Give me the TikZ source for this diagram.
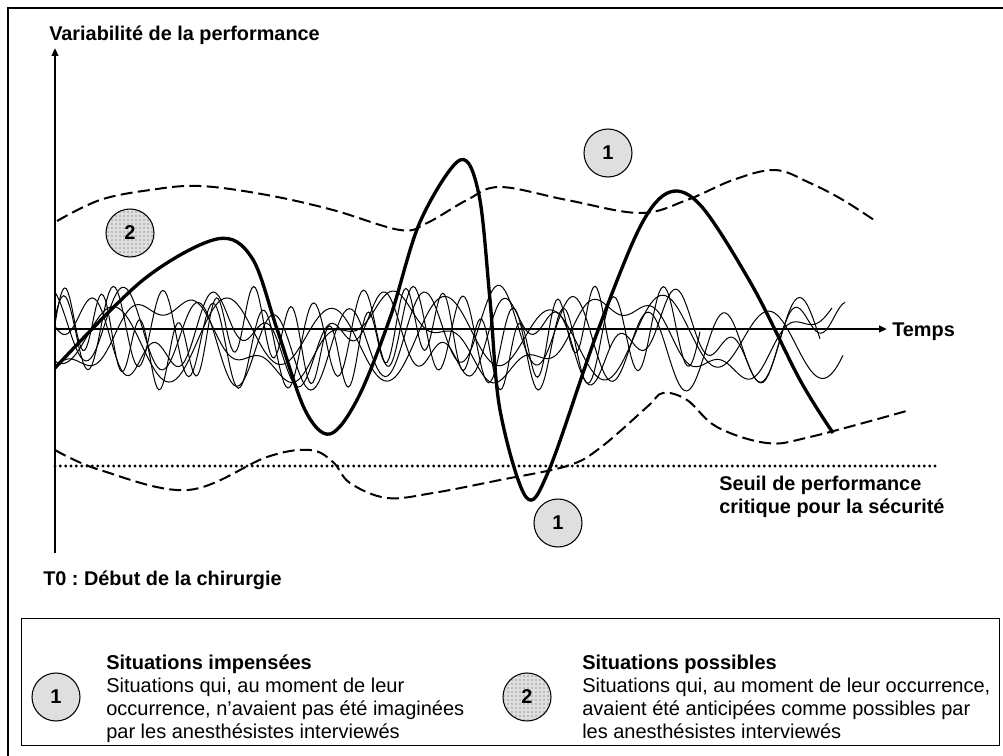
\documentclass[tikz,border=0pt]{standalone}
\usepackage{fontspec}
\setmainfont{Liberation Sans}
\usetikzlibrary{arrows.meta,patterns,positioning}
\frenchspacing

\begin{document}
\begin{tikzpicture}[x=0.75pt,y=-0.75pt,
                every node/.style={font=\fontsize{15}{17.25}\selectfont},
                axis/.style={line width=1.5pt,-{Triangle[length=6pt,width=5pt]}},
                wave/.style={line width=0.75pt},
                peak/.style={line width=2.5pt,line join=round},
                bound/.style={line width=1.5pt,dash pattern=on 9pt off 4pt},
                seuil/.style={line width=2.4pt,line cap=round,dash pattern=on 0pt off 4pt},
                sit/.style={circle,draw,line width=0.8pt,fill=gray!25,minimum size=36pt,inner sep=0pt,
                    font=\fontsize{15}{17.25}\selectfont\bfseries},
                dotsit/.style={sit,postaction={pattern=dots,pattern color=black!75}},
                lbl/.style={font=\fontsize{14.9}{17.25}\selectfont\bfseries,inner sep=0pt,anchor=base west}
            ]
                \useasboundingbox (0,0) rectangle (1003,756);
                \draw[line width=1.5pt] (8,760) -- (8,8) -- (1010,8);

                % waves
                \foreach \amp/\frq/\phs/\ampb/\frqb/\phsb/\xend in {
                    40/7.2/30/12/1.3/0/700,
                    38/4.8/120/15/0.9/60/820,
                    35/3.3/250/10/1.7/100/843,
                    32/9.5/0/20/2.1/45/610,
                    35/1.6/-90/12/5.5/30/832,
                    27/2.4/45/22/6.2/200/845} {
                    \draw[wave] plot[domain=55:\xend,samples=300]
                        (\x,{338-\amp*sin(\frq*(\x-55)+\phs)-\ampb*sin(\frqb*(\x-55)+\phsb)});
                }

                % envelopes
                \draw[bound] plot[smooth,tension=0.6] coordinates {(57,221) (100,200) (150,190) (200,186) (267,195)
                    (333,210) (400,230) (427,223) (467,200) (500,187) (567,200) (640,213) (687,200) (733,180)
                    (775,170) (810,183) (843,200) (877,222)};
                \draw[bound] plot[smooth,tension=0.6] coordinates {(55,450) (100,470) (188,490) (267,457) (310,450)
                    (333,462) (350,483) (387,498) (433,493) (500,480) (567,466) (600,448) (647,407) (663,393)
                    (687,400) (717,427) (767,443) (810,437) (910,410)};

                % thick curve
                \draw[peak] plot[smooth,tension=0.55] coordinates {(55,368) (143,280) (217,239) (252,258) (277,329)
                    (305,410) (330,434) (358,398) (390,318) (420,222) (460,160) (479,195) (490,300) (500,410)
                    (526,497) (549,470) (597,333) (640,227) (670,192) (702,207) (753,287) (800,380) (833,433)};

                % threshold
                \coordinate (s0) at (55,466);
                \coordinate (s1) at (935,466);
                \draw[seuil] (s0) -- (s1);
                \node[lbl] (seuil) at (719,490) {\begin{tabular}[t]{@{}l@{}}Seuil de performance\\critique pour la sécurité\end{tabular}};

                % axes
                \coordinate (O) at (55,329);
                \coordinate (ybot) at (55,553);
                \coordinate (ytop) at (55,48);
                \node[lbl,inner xsep=3.75pt] (temps) at (887,336) {Temps};
                \draw[axis] (ybot) -- (ytop);
                \draw[axis] (O) -- (O -| temps.west);
                \node[lbl] (yname) at (49,41) {Variabilité de la performance};
                \node[lbl] (t0) at (43,585) {T0 : Début de la chirurgie};

                % situations
                \node[dotsit] (p2) at (130,233) {2};
                \node[sit] (u1) at (608,153) {1};
                \node[sit] (u2) at (558,523) {1};

                % legend
                \node[draw,line width=1pt,minimum width=733.5pt,minimum height=95.25pt,inner sep=0pt,anchor=north west] (legend) at (21,618) {};
                \node[sit] (l1) at (56,697) {1};
                \node[dotsit] (l2) at (527,697) {2};
                \node[anchor=base west,inner sep=0pt] (l1text) at (106,669) {\begin{tabular}[t]{@{}l@{}}\textbf{Situations impensées}\\
                    Situations qui, au moment de leur\\occurrence, n’avaient pas été imaginées\\par les anesthésistes interviewés\end{tabular}};
                \node[anchor=base west,inner sep=0pt] (l2text) at (582,669) {\begin{tabular}[t]{@{}l@{}}\textbf{Situations possibles}\\
                    Situations qui, au moment de leur occurrence,\\avaient été anticipées comme possibles par\\les anesthésistes interviewés\end{tabular}};
            \end{tikzpicture}
\end{document}
